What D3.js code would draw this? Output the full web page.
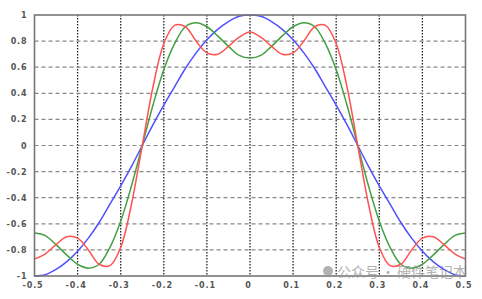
<!DOCTYPE html>
<html>
<head>
<meta charset="utf-8">
<script src="https://cdn.jsdelivr.net/npm/d3@7/dist/d3.min.js"></script>
<style>
  html, body { margin: 0; padding: 0; background: #fff; }
  svg { display: block; }
  .tick text { font-family: "DejaVu Sans", sans-serif; font-size: 8px; font-weight: bold; fill: #555; letter-spacing: 0.9px; }
</style>
</head>
<body>
<div id="chart"></div>
<script>
// x samples and the three curves
var xValues = [-0.5, -0.475, -0.45, -0.425, -0.4, -0.375, -0.35, -0.325, -0.3, -0.275, -0.25,
    -0.225, -0.2, -0.175, -0.15, -0.125, -0.1, -0.075, -0.05, -0.025, 0,
    0.025, 0.05, 0.075, 0.1, 0.125, 0.15, 0.175, 0.2, 0.225, 0.25,
    0.275, 0.3, 0.325, 0.35, 0.375, 0.4, 0.425, 0.45, 0.475, 0.5];

var blueValues = [-1, -0.99, -0.95, -0.89, -0.81, -0.71, -0.59, -0.45, -0.31, -0.16, 0,
    0.16, 0.31, 0.45, 0.59, 0.71, 0.81, 0.89, 0.95, 0.99, 1,
    0.99, 0.95, 0.89, 0.81, 0.71, 0.59, 0.45, 0.31, 0.16, 0,
    -0.16, -0.31, -0.45, -0.59, -0.71, -0.81, -0.89, -0.95, -0.99, -1];

var greenValues = [-0.67, -0.69, -0.76, -0.84, -0.91, -0.94, -0.91, -0.78, -0.58, -0.31, 0,
    0.31, 0.58, 0.78, 0.91, 0.94, 0.91, 0.84, 0.76, 0.69, 0.67,
    0.69, 0.76, 0.84, 0.91, 0.94, 0.91, 0.78, 0.58, 0.31, 0,
    -0.31, -0.58, -0.78, -0.91, -0.94, -0.91, -0.84, -0.76, -0.69, -0.67];

var redValues = [-0.87, -0.83, -0.76, -0.70, -0.71, -0.80, -0.91, -0.92, -0.78, -0.45, 0,
    0.45, 0.78, 0.92, 0.91, 0.80, 0.71, 0.70, 0.76, 0.83, 0.87,
    0.83, 0.76, 0.70, 0.71, 0.80, 0.91, 0.92, 0.78, 0.45, 0,
    -0.45, -0.78, -0.92, -0.91, -0.80, -0.71, -0.70, -0.76, -0.83, -0.87];

var xTicks = [-0.5, -0.4, -0.3, -0.2, -0.1, 0, 0.1, 0.2, 0.3, 0.4, 0.5];
var xTickLabels = ["-0.5", "-0.4", "-0.3", "-0.2", "-0.1", "0", "0.1", "0.2", "0.3", "0.4", "0.5"];
var yTicks = [-1, -0.8, -0.6, -0.4, -0.2, 0, 0.2, 0.4, 0.6, 0.8, 1];
var yTickLabels = ["-1", "-0.8", "-0.6", "-0.4", "-0.2", "0", "0.2", "0.4", "0.6", "0.8", "1"];

var series = [
    {name: "blue", color: "#5050ff", values: blueValues},
    {name: "green", color: "#42a042", values: greenValues},
    {name: "red", color: "#ff5252", values: redValues}
];

var W = 482, H = 299;
var m = {left: 34.5, right: 16.5, top: 15, bottom: 23};
var w = W - m.left - m.right, h = H - m.top - m.bottom;

var svg = d3.select("#chart").append("svg").attr("width", W).attr("height", H);
var g = svg.append("g").attr("transform", "translate(" + m.left + "," + m.top + ")");

var x = d3.scaleLinear().domain([-0.5, 0.5]).range([0, w]);
var y = d3.scaleLinear().domain([-1, 1]).range([h, 0]);

// grid: vertical dotted, horizontal dashed
g.selectAll(".vgrid").data(xTicks.slice(1, -1)).enter().append("line")
    .attr("x1", function(d) { return x(d); }).attr("x2", function(d) { return x(d); })
    .attr("y1", 0).attr("y2", h)
    .attr("stroke", "#222").attr("stroke-width", 1.3).attr("stroke-dasharray", "1.4,1.6");
g.selectAll(".hgrid").data(yTicks.slice(1, -1)).enter().append("line")
    .attr("x1", 0).attr("x2", w)
    .attr("y1", function(d) { return y(d); }).attr("y2", function(d) { return y(d); })
    .attr("stroke", "#888").attr("stroke-width", 1.2).attr("stroke-dasharray", "4,3");

// curves
var line = d3.line()
    .x(function(d) { return x(d[0]); })
    .y(function(d) { return y(d[1]); })
    .curve(d3.curveCatmullRom);

series.forEach(function(s) {
    g.append("path")
        .datum(d3.zip(xValues, s.values))
        .attr("fill", "none")
        .attr("stroke", s.color)
        .attr("stroke-width", 1.5)
        .attr("d", line);
});

// frame
g.append("rect").attr("x", 0).attr("y", 0).attr("width", w).attr("height", h)
    .attr("fill", "none").attr("stroke", "#777").attr("stroke-width", 1.6);

// axes (labels only)
var xAxis = d3.axisBottom(x).tickValues(xTicks).tickSize(0).tickPadding(6)
    .tickFormat(function(d, i) { return xTickLabels[i]; });
var yAxis = d3.axisLeft(y).tickValues(yTicks).tickSize(0).tickPadding(7)
    .tickFormat(function(d, i) { return yTickLabels[i]; });

g.append("g").attr("transform", "translate(0," + h + ")").call(xAxis)
    .call(function(a) { a.select(".domain").remove(); })
    .selectAll("text").attr("dx", "-2px");
g.append("g").call(yAxis)
    .call(function(a) { a.select(".domain").remove(); });

// watermark
var wm = svg.append("g").attr("opacity", 0.75)
    .attr("font-family", "Noto Sans CJK SC").attr("font-size", 14).attr("fill", "#999");
wm.append("circle").attr("cx", 328).attr("cy", 271).attr("r", 5).attr("fill", "#999");
wm.append("text").attr("x", 337).attr("y", 277).text("公众号");
wm.append("text").attr("x", 381).attr("y", 277).text("·");
wm.append("text").attr("x", 397).attr("y", 277).text("硬件笔记本");
</script>
</body>
</html>
